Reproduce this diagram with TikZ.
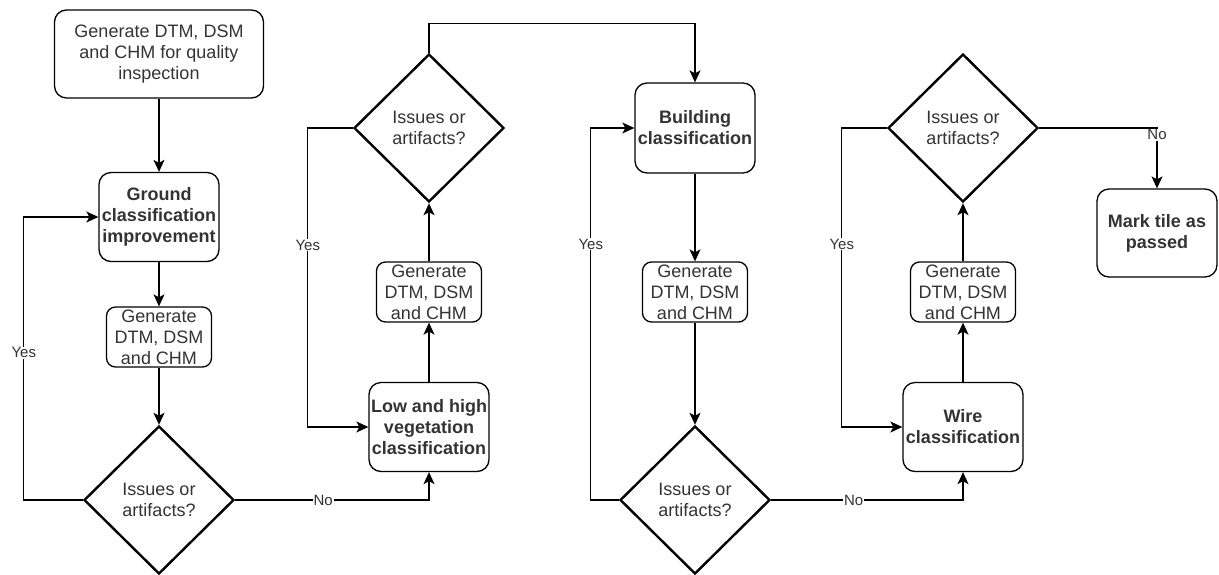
\documentclass[tikz,border=0pt]{standalone}
\usepackage{fontspec}
\setmainfont{Liberation Sans}
\usetikzlibrary{shapes.geometric,arrows.meta}

\begin{document}
\begin{tikzpicture}[x=1pt,y=-1pt]
\tikzset{every node/.style={font=\fontsize{18}{21}\selectfont,text=black!80}}
\tikzset{box/.style={draw,line width=1.3pt,rounded corners=12pt,align=center,inner sep=0pt,minimum width=120pt,minimum height=89pt}}
\tikzset{task/.style={box,font=\fontsize{18}{21}\selectfont\bfseries}}
\tikzset{genbox/.style={box,rounded corners=9pt,minimum width=105pt,minimum height=60pt}}
\tikzset{check/.style={draw,diamond,line width=2.4pt,align=center,inner sep=0pt,minimum width=150pt,minimum height=148pt}}
\tikzset{arr/.style={line width=1.3pt,-{Stealth[length=12pt,width=11pt,inset=3pt]}}}
\tikzset{lbl/.style={fill=white,inner sep=1pt,font=\fontsize{15}{17}\selectfont}}
\useasboundingbox (0,0) rectangle (1219,574);

\node[box,minimum width=209pt,minimum height=88pt] (start) at (159,54) {Generate DTM, DSM\\and CHM for quality\\inspection};
\node[task] (ground) at (159,217) {Ground\\classification\\improvement};
\node[genbox] (gen1) at (159,337) {Generate\\DTM, DSM\\and CHM};
\node[check] (dec1) at (159,500) {Issues or\\artifacts?};

\node[task] (veg) at (429,427) {Low and high\\vegetation\\classification};
\node[genbox] (gen2) at (429,292) {Generate\\DTM, DSM\\and CHM};
\node[check] (dec2) at (429,128) {Issues or\\artifacts?};

\node[task,minimum height=90pt] (building) at (695,128) {Building\\classification};
\node[genbox] (gen3) at (695,292) {Generate\\DTM, DSM\\and CHM};
\node[check] (dec3) at (695,500) {Issues or\\artifacts?};

\node[task] (wire) at (963,427) {Wire\\classification};
\node[genbox] (gen4) at (963,292) {Generate\\DTM, DSM\\and CHM};
\node[check] (dec4) at (963,128) {Issues or\\artifacts?};

\node[task,minimum height=88pt] (passed) at (1157,233) {Mark tile as\\passed};

\draw[arr] (start) -- (ground);
\draw[arr] (ground) -- (gen1);
\draw[arr] (gen1) -- (dec1);
\draw[arr] (dec1.west) -- ++(-59,0) |- node[lbl,pos=0.26]{Yes} (ground.west);
\draw[arr] (dec1.east) -| node[lbl,pos=0.227]{No} (veg.south);

\draw[arr] (veg) -- (gen2);
\draw[arr] (gen2) -- (dec2);
\draw[arr] (dec2.west) -- ++(-45,0) |- node[lbl,pos=0.196]{Yes} (veg.west);
\draw[arr] (dec2.north) -- ++(0,-29) -| (building.north);

\draw[arr] (building) -- (gen3);
\draw[arr] (gen3) -- (dec3);
\draw[arr] (dec3.west) -- ++(-28,0) |- node[lbl,pos=0.344]{Yes} (building.west);
\draw[arr] (dec3.east) -| node[lbl,pos=0.215]{No} (wire.south);

\draw[arr] (wire) -- (gen4);
\draw[arr] (gen4) -- (dec4);
\draw[arr] (dec4.west) -- ++(-45,0) |- node[lbl,pos=0.194]{Yes} (wire.west);
\draw[arr] (dec4.east) -| node[lbl,pos=0.557]{No} (passed.north);
\end{tikzpicture}
\end{document}
